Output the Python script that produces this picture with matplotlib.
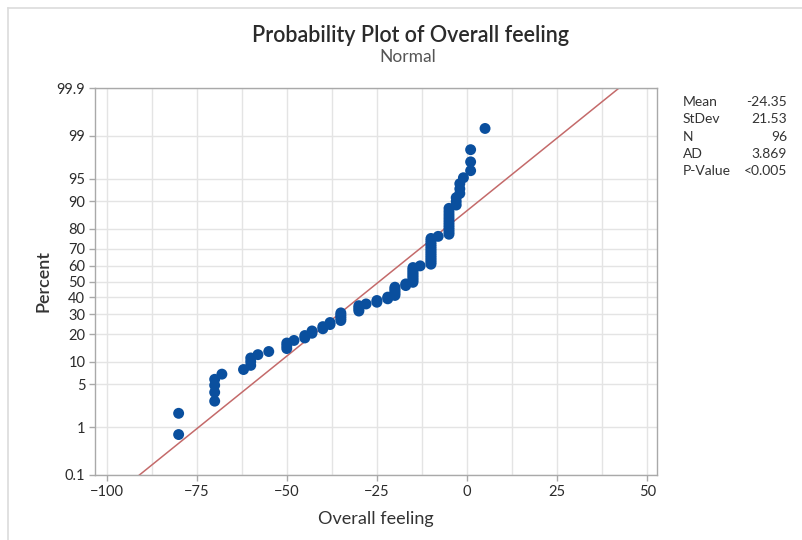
import math
import numpy as np
import matplotlib
matplotlib.use("Agg")
import matplotlib.pyplot as plt
from matplotlib.lines import Line2D

# ---- data ----
feel_values = [-80, -70, -68, -62, -60, -58, -55, -50, -48, -45, -43, -40, -38,
               -35, -30, -28, -25, -22, -20, -17, -15, -13, -10, -8, -5, -3,
               -2, -1, 1, 5]
feel_counts = [2, 4, 1, 1, 3, 1, 1, 3, 1, 2, 2, 2, 2,
               5, 4, 1, 2, 2, 6, 2, 10, 1, 15, 1, 11, 3,
               3, 1, 3, 1]
stat_names = ["Mean", "StDev", "N", "AD", "P-Value"]
stat_texts = ["-24.35", "21.53", "96", "3.869", "<0.005"]
fit_mean = -24.35
fit_sd = 21.53
x_ticks = [-100, -75, -50, -25, 0, 25, 50]
y_ticks = [0.1, 1, 5, 10, 20, 30, 40, 50, 60, 70, 80, 90, 95, 99, 99.9]
y_ticklabels = ["0.1", "1", "5", "10", "20", "30", "40", "50", "60", "70",
                "80", "90", "95", "99", "99.9"]

# ---- normal probability scale helpers ----
_erf = np.frompyfunc(math.erf, 1, 1)


def norm_cdf(z):
    z = np.asarray(z, dtype=float)
    return 0.5 * (1.0 + _erf(z / math.sqrt(2.0)).astype(float))


def norm_ppf(p):
    p = np.clip(np.asarray(p, dtype=float), 1e-12, 1 - 1e-12)
    a = [-3.969683028665376e+01, 2.209460984245205e+02, -2.759285104469687e+02,
         1.383577518672690e+02, -3.066479806614716e+01, 2.506628277459239e+00]
    b = [-5.447609879822406e+01, 1.615858368580409e+02, -1.556989798598866e+02,
         6.680131188771972e+01, -1.328068155288572e+01]
    c = [-7.784894002430293e-03, -3.223964580411365e-01, -2.400758277161838e+00,
         -2.549732539343734e+00, 4.374664141464968e+00, 2.938163982698783e+00]
    d = [7.784695709041462e-03, 3.224671290700398e-01, 2.445134137142996e+00,
         3.754408661907416e+00]
    plow = 0.02425
    x = np.empty_like(p)
    lo = p < plow
    hi = p > 1 - plow
    mid = ~(lo | hi)
    q = np.sqrt(-2 * np.log(p[lo]))
    x[lo] = (((((c[0]*q+c[1])*q+c[2])*q+c[3])*q+c[4])*q+c[5]) / \
        ((((d[0]*q+d[1])*q+d[2])*q+d[3])*q+1)
    q = np.sqrt(-2 * np.log(1 - p[hi]))
    x[hi] = -(((((c[0]*q+c[1])*q+c[2])*q+c[3])*q+c[4])*q+c[5]) / \
        ((((d[0]*q+d[1])*q+d[2])*q+d[3])*q+1)
    q = p[mid] - 0.5
    r = q * q
    x[mid] = (((((a[0]*r+a[1])*r+a[2])*r+a[3])*r+a[4])*r+a[5])*q / \
        (((((b[0]*r+b[1])*r+b[2])*r+b[3])*r+b[4])*r+1)
    e = norm_cdf(x) - p
    u = e * math.sqrt(2 * math.pi) * np.exp(x * x / 2)
    x = x - u / (1 + x * u / 2)
    return x


def fwd(pct):
    return norm_ppf(np.asarray(pct, dtype=float) / 100.0)


def inv(z):
    return 100.0 * norm_cdf(z)


# ---- build sorted sample and median-rank percents ----
data = np.sort(np.repeat(np.array(feel_values, float), feel_counts))
n = len(data)
ranks = np.arange(1, n + 1)
pct = (ranks - 0.3) / (n + 0.4) * 100.0

# ---- figure ----
plt.rcParams['font.family'] = ['Lato', 'DejaVu Sans']
fig = plt.figure(figsize=(8.03, 5.40), dpi=100)
ax = fig.add_axes([95/803, 65/540, 562/803, 387/540])
ax.set_yscale('function', functions=(fwd, inv))

# grid
ax.set_xticks(x_ticks)
ax.set_xticks(np.arange(-100, 51, 12.5), minor=True)
ax.set_yticks(y_ticks)
ax.set_yticklabels(y_ticklabels)
ax.yaxis.set_minor_locator(matplotlib.ticker.NullLocator())
ax.grid(True, which='major', color='#e4e4e4', lw=1.0)
ax.grid(True, which='minor', axis='x', color='#e4e4e4', lw=1.0)
ax.set_axisbelow(True)

# fitted line
z_edges = fwd([0.1, 99.9])
line_x = fit_mean + fit_sd * z_edges
ax.plot(line_x, [0.1, 99.9], color='#c46a6a', lw=1.1, zorder=2)

# points
ax.scatter(data, pct, s=62, color='#0a4f9e', edgecolors='none', zorder=3)

ax.set_xlim(-103.2, 52.7)
ax.set_ylim(0.1, 99.9)

for s in ax.spines.values():
    s.set_color('#a9a9a9')
    s.set_linewidth(1.0)
ax.tick_params(axis='both', which='major', length=4, width=1, color='#a9a9a9',
               labelsize=10.5, labelcolor='#2b2b2b', pad=3)
ax.tick_params(axis='x', which='minor', length=0)

ax.set_xlabel('Overall feeling', fontsize=13, color='#333333', labelpad=9)
ax.set_ylabel('Percent', fontsize=13, color='#333333', labelpad=4,
              fontweight='semibold')

# titles
fig.text(410/803, 1 - 35/540, 'Probability Plot of Overall feeling',
         ha='center', va='center', fontsize=15.5, color='#2b2b2b',
         fontweight='semibold')
fig.text(408/803, 1 - 57/540, 'Normal', ha='center', va='center',
         fontsize=12.5, color='#555555')

# stats table
for k, (nm, tx) in enumerate(zip(stat_names, stat_texts)):
    yy = 1 - (102 + k * 17.3) / 540
    fig.text(683/803, yy, nm, ha='left', va='center', fontsize=10,
             color='#333333')
    fig.text(787/803, yy, tx, ha='right', va='center', fontsize=10,
             color='#333333')

# outer frame (top and left edges)
fig.add_artist(Line2D([8/803, 1.0], [1 - 8/540, 1 - 8/540],
                      transform=fig.transFigure, color='#dcdcdc', lw=1.2))
fig.add_artist(Line2D([8/803, 8/803], [0.0, 1 - 8/540],
                      transform=fig.transFigure, color='#dcdcdc', lw=1.2))

fig.savefig('out.png', dpi=100)
